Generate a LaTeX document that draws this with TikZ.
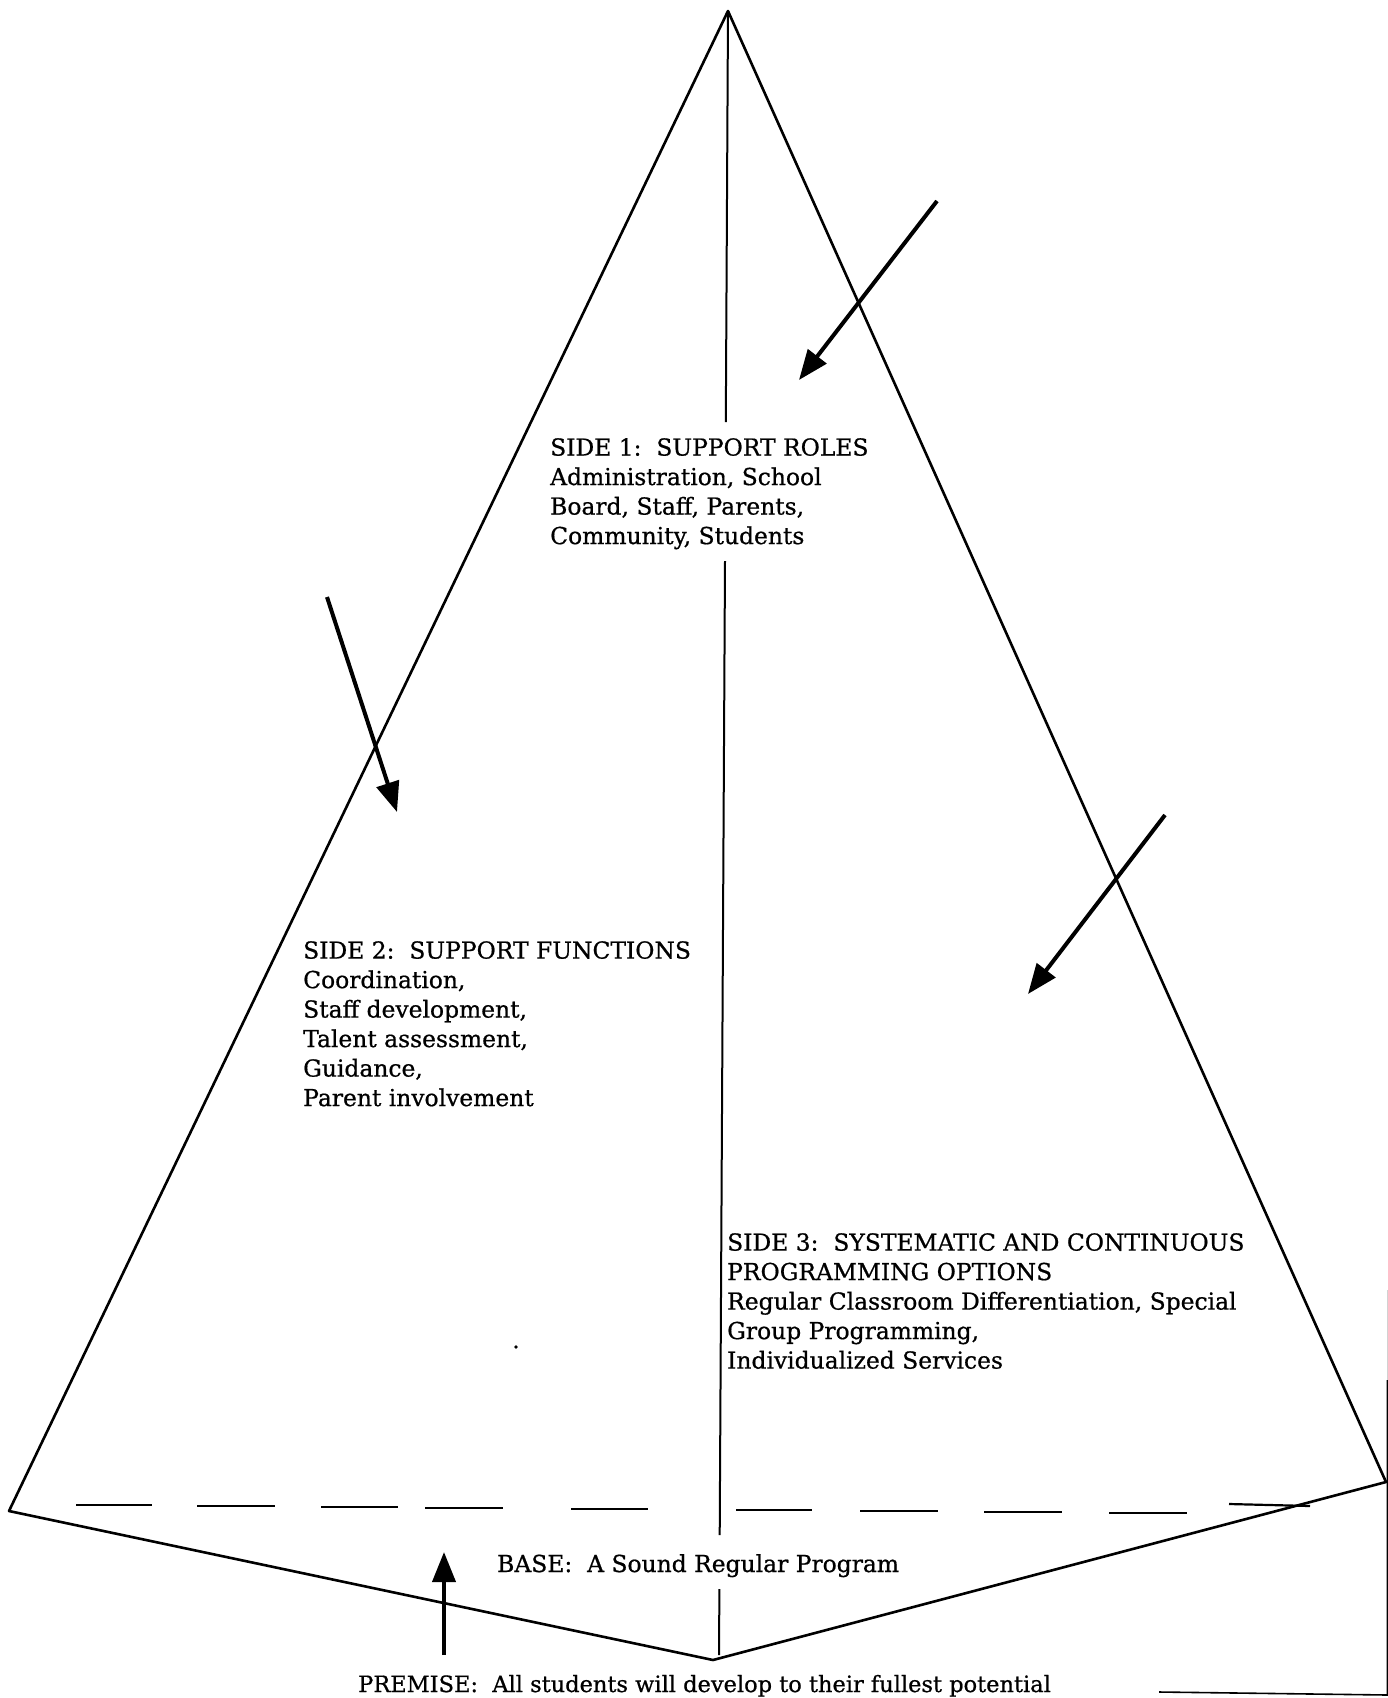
\documentclass[tikz,border=0pt]{standalone}
\usepackage{fontspec}
\setmainfont{DejaVu Serif}[FakeBold=0.7]
\usetikzlibrary{arrows.meta}
\tikzset{
  edge/.style={line width=2.6pt, line join=round, line cap=round},
  mid/.style={line width=2pt},
  dashseg/.style={line width=2.2pt},
  bigarrow/.style={line width=4pt, -{Triangle[length=30pt,width=23pt]}},
  txt/.style={font=\fontsize{23.4}{29.5}\selectfont, inner sep=0pt, align=left, anchor=north west},
}
\begin{document}
\begin{tikzpicture}[x=1pt,y=-1pt]
\useasboundingbox (0,0) rectangle (1388,1698);
% key points
\coordinate (apex) at (728,11);
\coordinate (L) at (9,1511);
\coordinate (R) at (1386,1482);
\coordinate (B) at (713,1660);
% pyramid outline
\draw[edge] (L) -- (apex) -- (R) -- (B) -- cycle;
% central line with gaps
\coordinate (c1) at (728,11);
\coordinate (c2) at (725.8,422);
\coordinate (c3) at (725,561);
\coordinate (c4) at (719.7,1535);
\coordinate (c5) at (719.4,1589);
\coordinate (c6) at (719,1655);
\draw[mid] (c1) -- (c2);
\draw[mid] (c3) -- (c4);
\draw[mid] (c5) -- (c6);
% dashed base line
\foreach \xa/\xb/\ya/\yb in {76/152/1505/1505, 197/275/1506/1506, 321/398/1507/1507, 425/503/1508/1508, 571/648/1509/1509, 736/812/1510/1510, 860/938/1511/1511, 984/1062/1512/1512, 1109/1187/1513/1513, 1229/1310/1504/1506}
  \draw[dashseg] (\xa,\ya) -- (\xb,\yb);
% box fragment at bottom right
\coordinate (k0) at (1387.5,1290);
\coordinate (k1) at (1387.5,1380);
\coordinate (k2) at (1387.5,1695);
\coordinate (k3) at (1159,1692);
\draw[line width=0.8pt, gray!35] (k0) -- (k1);
\draw[line width=1.6pt] (k1) -- (k2) -- (k3);
% arrows
\coordinate (a1s) at (937,201);
\coordinate (a1e) at (799,380);
\coordinate (a2s) at (327,597);
\coordinate (a2e) at (397,812);
\coordinate (a3s) at (1165,815);
\coordinate (a3e) at (1028,994);
\coordinate (a4s) at (444,1655);
\coordinate (a4e) at (444,1552);
\draw[bigarrow] (a1s) -- (a1e);
\draw[bigarrow] (a2s) -- (a2e);
\draw[bigarrow] (a3s) -- (a3e);
\draw[bigarrow] (a4s) -- (a4e);
% speck
\fill (516,1347) circle (1.8pt);
% texts
\node[txt] (side1) at (550,438) {SIDE 1:\ \ SUPPORT ROLES\\Administration, School\\Board, Staff, Parents,\\Community, Students};
\node[txt] (side2) at (303,941) {SIDE 2:\ \ SUPPORT FUNCTIONS\\Coordination,\\Staff development,\\Talent assessment,\\Guidance,\\Parent involvement};
\node[txt] (side3) at (727,1233) {SIDE 3:\ \ SYSTEMATIC AND CONTINUOUS\\PROGRAMMING OPTIONS\\Regular Classroom Differentiation, Special\\Group Programming,\\Individualized Services};
\node[txt, anchor=base west] (base) at (497,1572) {BASE:\ \ A Sound Regular Program};
\node[txt, font=\fontsize{22.5}{28}\selectfont, anchor=base west] (premise) at (358,1692) {PREMISE:\ \ All students will develop to their fullest potential};
\end{tikzpicture}
\end{document}
